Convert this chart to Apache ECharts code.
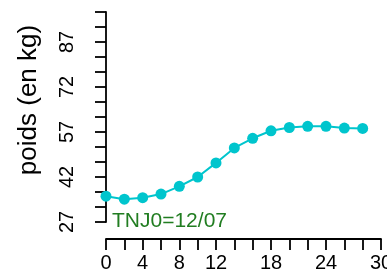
<!DOCTYPE html>
<html>
<head>
<meta charset="utf-8">
<script src="https://cdn.jsdelivr.net/npm/echarts@6/dist/echarts.min.js"></script>
<style>
  html, body { margin: 0; padding: 0; background: #fff; }
  #chart { width: 387px; height: 275px; }
</style>
</head>
<body>
<div id="chart"></div>
<script>
// age en jours et poids
const jours = [0, 2, 4, 6, 8, 10, 12, 14, 16, 18, 20, 22, 24, 26, 28];
const poids = [35.6, 34.6, 35.1, 36.3, 38.9, 42.0, 46.7, 51.7, 54.9, 57.4, 58.5, 58.9, 58.9, 58.3, 58.2];
// libellés visibles des axes
const xLabels = [0, 4, 8, 12, 18, 24, 30];
const yLabels = [27, 42, 57, 72, 87];
const note = 'TNJ0=12/07';

const chart = echarts.init(document.getElementById('chart'));
const font = 'Liberation Sans, Arial, sans-serif';

chart.setOption({
    animation: false,
    title: {
        text: note,
        left: 107,
        top: 206,
        textStyle: { color: '#217d21', fontSize: 21, fontWeight: 'normal', fontFamily: font }
    },
    grid: { left: 106, top: 12, width: 275, height: 210, outerBoundsMode: 'none' },
    xAxis: {
        type: 'value',
        min: 0,
        max: 30,
        interval: 2,
        offset: 17,
        splitLine: { show: false },
        axisLine: { lineStyle: { color: '#000', width: 1.8 } },
        axisTick: { length: 11, lineStyle: { color: '#000', width: 1.8 } },
        axisLabel: {
            color: '#000',
            fontSize: 20,
            fontFamily: font,
            margin: 14,
            showMaxLabel: true,
            formatter: v => (xLabels.includes(v) ? String(v) : '')
        }
    },
    yAxis: {
        type: 'value',
        min: 27,
        max: 97,
        interval: 5,
        offset: 16,
        splitLine: { show: false },
        axisLine: { lineStyle: { color: '#000', width: 1.8 } },
        axisTick: { length: 11, lineStyle: { color: '#000', width: 1.8 } },
        axisLabel: {
            color: '#000',
            fontSize: 20,
            fontFamily: font,
            rotate: 90,
            margin: 13,
            formatter: v => (yLabels.includes(v) ? String(v) : '')
        },
        name: 'poids (en kg)',
        nameLocation: 'middle',
        nameGap: 48,
        nameTextStyle: { color: '#000', fontSize: 26, fontFamily: font, padding: [0, 0, 0, 34] }
    },
    series: [{
        type: 'line',
        data: jours.map((j, i) => [j, poids[i]]),
        symbol: 'circle',
        symbolSize: 11,
        lineStyle: { color: '#00c5cd', width: 2 },
        itemStyle: { color: '#00c5cd' }
    }]
});
</script>
</body>
</html>
